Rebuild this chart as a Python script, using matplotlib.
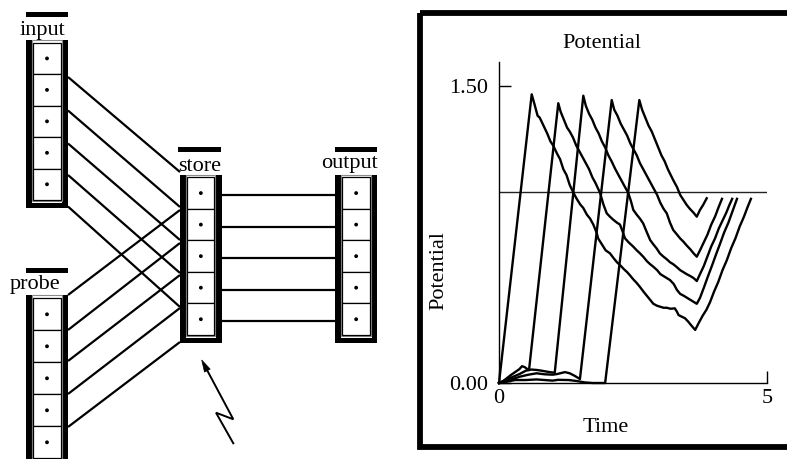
import matplotlib
matplotlib.use('Agg')
import matplotlib.pyplot as plt
from matplotlib.patches import Rectangle, Polygon, Circle
import numpy as np

plt.rcParams['font.family'] = ['Liberation Serif', 'DejaVu Serif']

# ---------------- chart data (Potential vs Time) ----------------
curve1_t = [0.0, 0.61, 0.66, 0.72, 0.76, 0.83, 0.90, 0.96, 1.01, 1.08, 1.14, 1.20, 1.26, 1.32, 1.39,
            1.45, 1.52, 1.57, 1.64, 1.70, 1.76, 1.82, 1.85, 1.92, 1.99, 2.07, 2.14, 2.20, 2.26, 2.33,
            2.39, 2.44, 2.50, 2.57, 2.63, 2.70, 2.76, 2.82, 2.88, 2.95, 3.01, 3.07, 3.13, 3.20, 3.28,
            3.32, 3.35, 3.41, 3.47, 3.53, 3.59, 3.66, 3.72, 3.80, 3.87, 3.94, 4.01, 4.09, 4.17, 4.25,
            4.33, 4.41, 4.49, 4.57, 4.64, 4.70]
curve1_v = [0.0, 1.458, 1.41, 1.35, 1.34, 1.30, 1.26, 1.22, 1.20, 1.16, 1.13, 1.08, 1.05, 1.00, 0.96,
            0.93, 0.90, 0.885, 0.85, 0.83, 0.80, 0.76, 0.73, 0.70, 0.67, 0.655, 0.63, 0.61, 0.595, 0.575,
            0.56, 0.545, 0.525, 0.505, 0.485, 0.46, 0.44, 0.42, 0.40, 0.39, 0.385, 0.38, 0.38, 0.375, 0.377,
            0.36, 0.343, 0.335, 0.327, 0.31, 0.29, 0.268, 0.30, 0.34, 0.37, 0.41, 0.46, 0.51, 0.57, 0.62,
            0.68, 0.73, 0.79, 0.84, 0.89, 0.93]

curve2_t = [0.0, 0.08, 0.15, 0.22, 0.30, 0.38, 0.43, 0.48, 0.53, 0.56, 1.106, 1.15, 1.21, 1.27, 1.32,
            1.38, 1.44, 1.50, 1.56, 1.62, 1.68, 1.74, 1.80, 1.884, 1.95, 2.01, 2.07, 2.13, 2.20, 2.257,
            2.30, 2.35, 2.42, 2.50, 2.57, 2.63, 2.70, 2.76, 2.82, 2.88, 2.95, 3.01, 3.07, 3.13, 3.19,
            3.26, 3.32, 3.38, 3.45, 3.51, 3.57, 3.63, 3.69, 3.75, 3.82, 3.90, 3.97, 4.05, 4.12, 4.20,
            4.28, 4.36, 4.44]
curve2_v = [0.0, 0.01, 0.025, 0.04, 0.055, 0.07, 0.085, 0.08, 0.07, 0.065, 1.413, 1.37, 1.33, 1.29, 1.27,
            1.24, 1.20, 1.17, 1.14, 1.11, 1.08, 1.04, 1.01, 0.961, 0.90, 0.857, 0.84, 0.825, 0.81, 0.80,
            0.77, 0.731, 0.71, 0.69, 0.67, 0.655, 0.635, 0.615, 0.60, 0.587, 0.57, 0.55, 0.54, 0.53, 0.52,
            0.50, 0.47, 0.45, 0.44, 0.43, 0.42, 0.41, 0.40, 0.43, 0.48, 0.54, 0.59, 0.65, 0.70, 0.76,
            0.81, 0.87, 0.93]

curve3_t = [0.0, 0.12, 0.25, 0.38, 0.50, 0.60, 0.70, 0.80, 0.90, 0.97, 1.04, 1.573, 1.62, 1.68, 1.74,
            1.80, 1.86, 1.92, 1.98, 2.04, 2.10, 2.17, 2.23, 2.29, 2.35, 2.41, 2.46, 2.506, 2.57, 2.63,
            2.69, 2.76, 2.82, 2.88, 2.94, 3.00, 3.06, 3.13, 3.19, 3.25, 3.31, 3.38, 3.44, 3.50, 3.57,
            3.63, 3.69, 3.75, 3.82, 3.89, 3.96, 4.03, 4.10, 4.17, 4.24, 4.30, 4.35]
curve3_v = [0.0, 0.015, 0.03, 0.045, 0.062, 0.068, 0.066, 0.062, 0.057, 0.054, 0.052, 1.451, 1.40, 1.36, 1.33,
            1.29, 1.26, 1.22, 1.19, 1.15, 1.12, 1.08, 1.05, 1.02, 0.99, 0.961, 0.92, 0.874, 0.85, 0.83,
            0.806, 0.76, 0.722, 0.70, 0.68, 0.655, 0.64, 0.625, 0.61, 0.60, 0.587, 0.57, 0.56, 0.55, 0.54,
            0.53, 0.515, 0.55, 0.59, 0.64, 0.69, 0.73, 0.78, 0.82, 0.86, 0.90, 0.93]

curve4_t = [0.0, 0.20, 0.39, 0.55, 0.70, 0.85, 1.00, 1.08, 1.23, 1.32, 1.42, 1.51, 2.103, 2.15, 2.21,
            2.27, 2.33, 2.39, 2.45, 2.51, 2.57, 2.63, 2.69, 2.75, 2.81, 2.87, 2.95, 3.01, 3.07, 3.13,
            3.19, 3.25, 3.32, 3.38, 3.44, 3.50, 3.57, 3.63, 3.69, 3.75, 3.82, 3.89, 3.96, 4.03, 4.10, 4.16]
curve4_v = [0.0, 0.015, 0.032, 0.042, 0.049, 0.044, 0.042, 0.045, 0.055, 0.049, 0.035, 0.02, 1.429, 1.38, 1.35,
            1.31, 1.28, 1.25, 1.21, 1.18, 1.15, 1.11, 1.08, 1.05, 1.02, 0.99, 0.95, 0.91, 0.88, 0.857,
            0.81, 0.773, 0.75, 0.73, 0.714, 0.695, 0.675, 0.655, 0.638, 0.67, 0.71, 0.75, 0.80, 0.84, 0.89, 0.93]

curve5_t = [0.0, 0.12, 0.30, 0.50, 0.70, 0.85, 1.00, 1.10, 1.30, 1.45, 1.60, 1.75, 1.98, 2.618, 2.67,
            2.73, 2.79, 2.85, 2.91, 2.97, 3.03, 3.09, 3.15, 3.25, 3.32, 3.38, 3.44, 3.50, 3.56, 3.63,
            3.69, 3.75, 3.81, 3.875]
curve5_v = [0.0, 0.005, 0.015, 0.015, 0.018, 0.015, 0.012, 0.016, 0.015, 0.01, 0.003, 0.0, 0.0, 1.429, 1.38,
            1.34, 1.30, 1.27, 1.23, 1.19, 1.15, 1.12, 1.08, 1.025, 0.99, 0.95, 0.925, 0.90, 0.88, 0.86,
            0.84, 0.874, 0.90, 0.933]

threshold = 0.965
x_ticks = [0, 5]
x_tick_labels = ['0', '5']
y_ticks = [0.0, 1.5]
y_tick_labels = ['0.00', '1.50']
chart_title = 'Potential'
x_label = 'Time'
y_label = 'Potential'

# ---------------- diagram labels ----------------
layer_names = ['input', 'probe', 'store', 'output']
cells_per_layer = 5

W, H = 787, 459
fig = plt.figure(figsize=(W / 100, H / 100), dpi=100)
bg = fig.add_axes([0, 0, 1, 1])
bg.set_xlim(0, W)
bg.set_ylim(H, 0)
bg.axis('off')

FS = 16
LW = 1.6


def column(xl, xr, ytop, cell_top, cell_h, n, bar=5.7):
    cb = cell_top + n * cell_h
    bg.add_patch(Rectangle((xl, ytop), xr - xl, cb + 7.5 - ytop, facecolor='white', edgecolor='none', zorder=3))
    bg.add_patch(Rectangle((xl, ytop), bar, cb + 7.5 - ytop, facecolor='black', edgecolor='none', zorder=4))
    bg.add_patch(Rectangle((xr - bar, ytop), bar, cb + 7.5 - ytop, facecolor='black', edgecolor='none', zorder=4))
    bg.add_patch(Rectangle((xl, cb + 2.5), xr - xl, 5.0, facecolor='black', edgecolor='none', zorder=4))
    bg.add_patch(Rectangle((xl + bar + 0.7, ytop), (xr - xl) - 2 * bar - 1.4, cb + 1.4 - ytop,
                           facecolor='none', edgecolor='#8a8a8a', lw=0.8, zorder=5))
    cx0 = xl + 7.3
    cw = (xr - xl) - 14.6
    for k in range(n):
        y0 = cell_top + k * cell_h
        bg.add_patch(Rectangle((cx0, y0), cw, cell_h, facecolor='white', edgecolor='black', lw=0.9, zorder=6))
        bg.add_patch(Circle((cx0 + cw / 2, y0 + cell_h / 2), 1.9, facecolor='black', edgecolor='none', zorder=7))


def label_bar(xl, xr, y):
    bg.add_patch(Rectangle((xl, y), xr - xl, 5.0, facecolor='black', edgecolor='none', zorder=4))


input_starts = [77, 110.5, 143.5, 175, 206.5]
input_ends = [172, 207, 240, 273, 307]
probe_starts = [295, 330, 361, 394, 427]
probe_ends = [210, 243, 275, 308, 342]
store_rows = [194.5, 226.5, 258, 289.5, 320.5]
for a, b in zip(input_starts, input_ends):
    bg.plot([68, 180], [a, b], color='black', lw=LW, zorder=2, solid_capstyle='butt')
for a, b in zip(probe_starts, probe_ends):
    bg.plot([68, 180], [a, b], color='black', lw=LW, zorder=2, solid_capstyle='butt')
for y in store_rows:
    bg.plot([221, 335.5], [y, y], color='black', lw=LW, zorder=2, solid_capstyle='butt')

column(26, 68, 40, 42.7, 31.46, cells_per_layer)        # input
column(26, 68, 295, 298.3, 32.0, cells_per_layer)       # probe
column(180, 221.7, 175, 177.3, 31.54, cells_per_layer)  # store
column(335, 377.3, 175, 177.3, 31.54, cells_per_layer)  # output

label_bar(26, 68, 12)
label_bar(26, 68, 268)
label_bar(178, 221, 147)
label_bar(335, 377, 147)

bg.text(42, 35, layer_names[0], ha='center', va='baseline', fontsize=FS, zorder=8)
bg.text(35, 289, layer_names[1], ha='center', va='baseline', fontsize=FS, zorder=8)
bg.text(199.5, 171, layer_names[2], ha='center', va='baseline', fontsize=FS, zorder=8)
bg.text(350, 168, layer_names[3], ha='center', va='baseline', fontsize=FS, zorder=8)

# lightning arrow
px = [233.3, 216.0, 233.3, 204.5]
py = [443.3, 412.7, 419.3, 365.3]
bg.plot(px, py, color='black', lw=1.4, zorder=2, solid_joinstyle='miter')
tip = np.array([201.7, 360.0])
d = np.array([233.3, 419.3]) - tip
d = d / np.hypot(*d)
nrm = np.array([-d[1], d[0]])
base = tip + d * 12
bg.add_patch(Polygon([tip, base + nrm * 3.2, base - nrm * 3.2], closed=True, facecolor='black',
                     edgecolor='black', lw=0.5, zorder=3))

# chart frame
bg.add_patch(Rectangle((420, 12.5), 420, 434.2, facecolor='none', edgecolor='black', lw=4.2, zorder=2))

bg.text(602, 48, chart_title, ha='center', va='baseline', fontsize=FS, zorder=8)
bg.text(606, 432, x_label, ha='center', va='baseline', fontsize=FS, zorder=8)
bg.text(439, 270, y_label, ha='center', va='center', rotation=90, fontsize=FS, zorder=8)

ymax = 1.5 * (383 - 62) / (383 - 86)
ax = fig.add_axes([499 / W, (H - 383) / H, 268 / W, (383 - 62) / H])
ax.set_facecolor('none')
ax.set_xlim(0, 5)
ax.set_ylim(0, ymax)
for s in ['top', 'right']:
    ax.spines[s].set_visible(False)
for s in ['left', 'bottom']:
    ax.spines[s].set_linewidth(1.0)
ax.set_xticks(x_ticks)
ax.set_xticklabels(x_tick_labels)
ax.set_yticks(y_ticks)
ax.set_yticklabels(y_tick_labels)
ax.tick_params(direction='in', length=8.8, width=1.0, labelsize=FS)
ax.tick_params(axis='x', pad=4)
ax.tick_params(axis='y', pad=8)
ax.axhline(threshold, color='#222222', lw=1.0)
for t, v in [(curve1_t, curve1_v), (curve2_t, curve2_v), (curve3_t, curve3_v),
             (curve4_t, curve4_v), (curve5_t, curve5_v)]:
    ax.plot(t, v, color='black', lw=1.7, clip_on=False)

fig.savefig('out.png', dpi=100)
